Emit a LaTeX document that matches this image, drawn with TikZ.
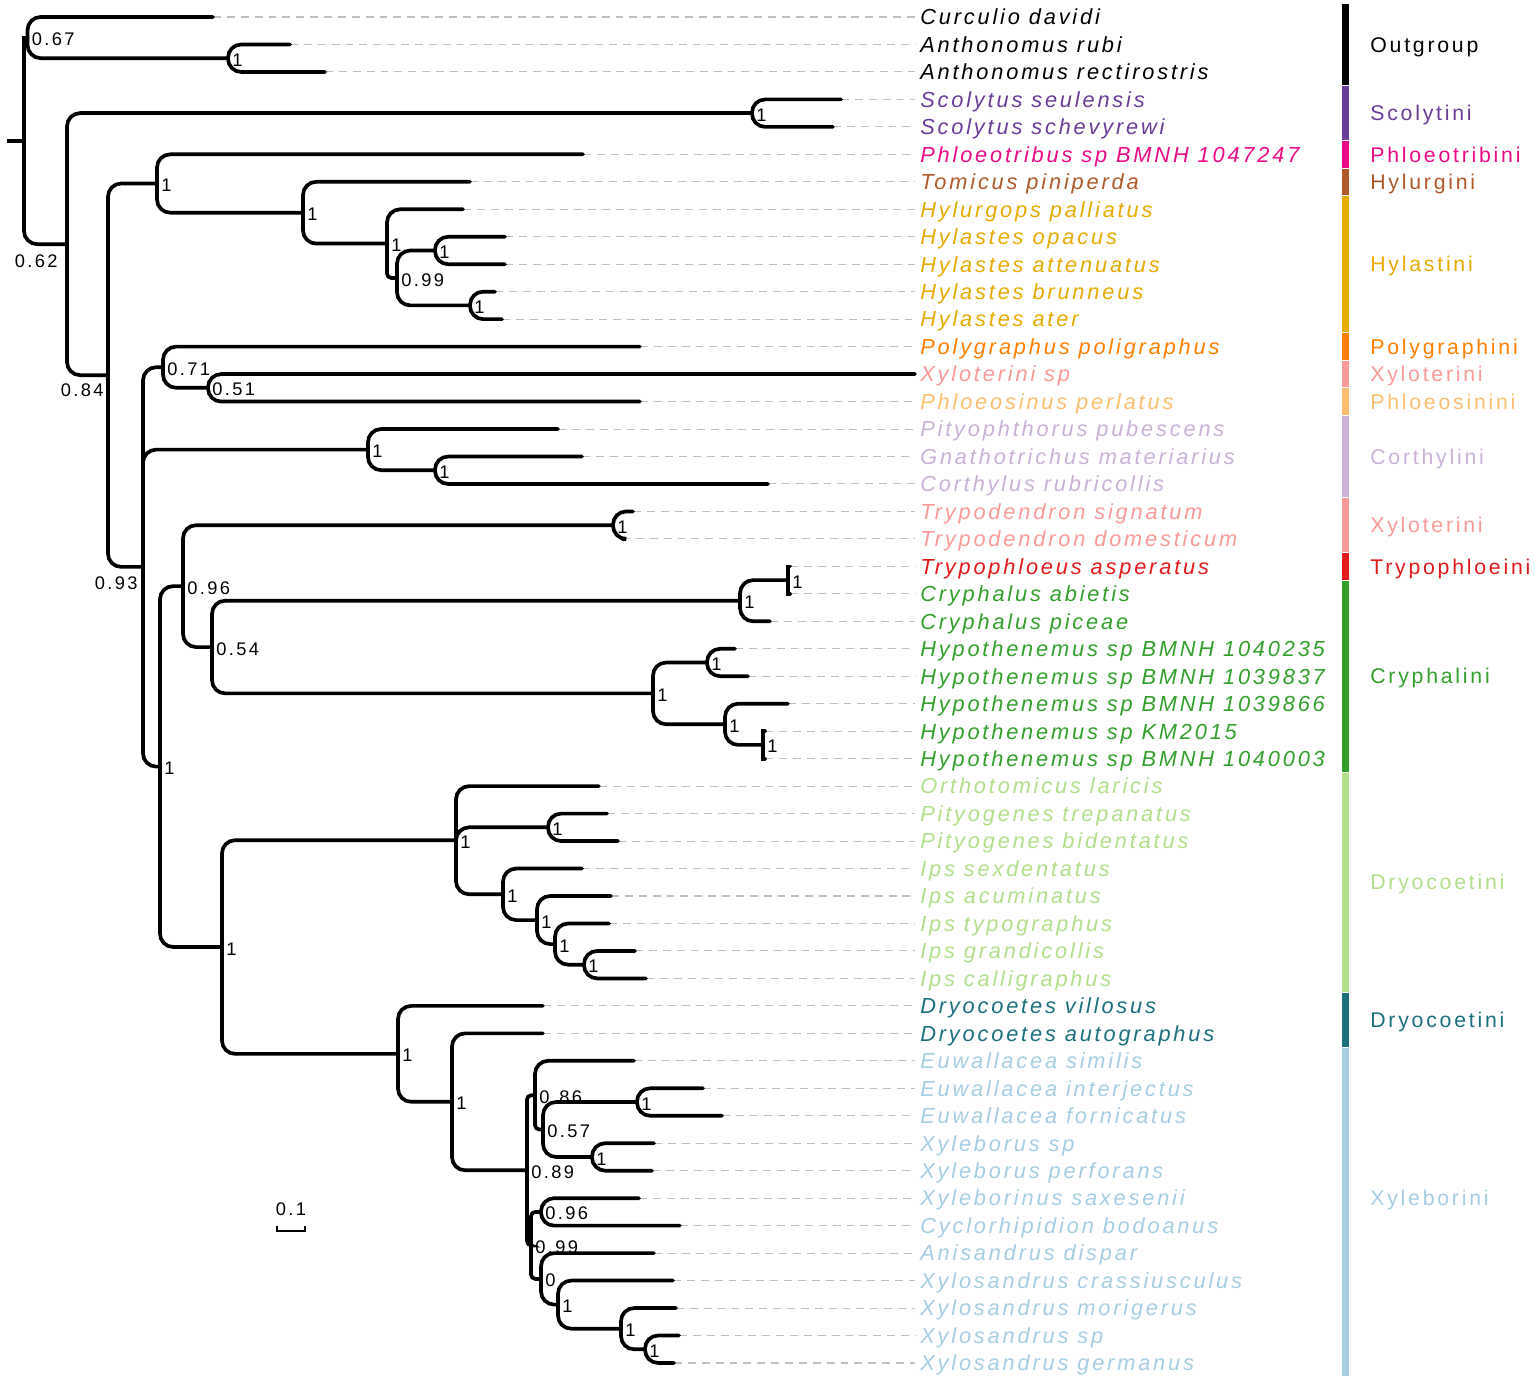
\documentclass[tikz,border=0pt]{standalone}
\usepackage{fontspec}
\setmainfont{Liberation Sans}[LetterSpace=13]
\usepackage{tikz}

\newcommand{\tipsize}{\fontsize{12.4}{14}\selectfont}
\newcommand{\cladesize}{\fontsize{12.1}{14}\selectfont}
\newcommand{\suppsize}{\fontsize{10.4}{12}\selectfont}

\definecolor{outgrp}{RGB}{0,0,0}
\definecolor{scoly}{RGB}{106,61,154}
\definecolor{phloeotr}{RGB}{235,10,135}
\definecolor{hylurg}{RGB}{177,89,40}
\definecolor{hylast}{RGB}{230,171,2}
\definecolor{polygr}{RGB}{255,127,0}
\definecolor{xyloter}{RGB}{251,154,153}
\definecolor{phloeos}{RGB}{253,191,111}
\definecolor{corthyl}{RGB}{202,178,214}
\definecolor{trypo}{RGB}{227,26,28}
\definecolor{cryph}{RGB}{51,160,44}
\definecolor{dryoa}{RGB}{178,223,138}
\definecolor{dryob}{RGB}{27,112,125}
\definecolor{xylebo}{RGB}{166,206,227}

\begin{document}
\begin{tikzpicture}[x=0.02cm, y=-0.02cm,
    branch/.style={draw, line width=2.1pt, line cap=round, rounded corners=7.5pt,
                   to path={|- (\tikztotarget)}},
    tight/.style={branch, rounded corners=2.5pt},
    square/.style={branch, sharp corners},
    guide/.style={draw=black!25, line width=0.6pt, dash pattern=on 4.5pt off 3.4pt},
    tip/.style={anchor=west, inner xsep=2.8pt, inner ysep=0pt, font=\tipsize\itshape,
                text height=8.9pt, text depth=0pt},
    supp/.style={anchor=west, inner sep=0pt, xshift=2.3pt, yshift=-1pt, font=\suppsize},
    suppl/.style={anchor=east, inner sep=0pt, font=\suppsize},
    clade/.style={anchor=west, inner sep=0pt, font=\cladesize, text height=8.7pt, text depth=0pt}]
  \path[fill=white] (0,0) rectangle (1535,1381);

  \foreach \i/\xe/\col/\txt in {1/213/outgrp/Curculio davidi, 2/290/outgrp/Anthonomus rubi,
      3/325/outgrp/Anthonomus rectirostris, 4/841/scoly/Scolytus seulensis,
      5/833/scoly/Scolytus schevyrewi, 6/583/phloeotr/Phloeotribus sp BMNH 1047247,
      7/470/hylurg/Tomicus piniperda, 8/463/hylast/Hylurgops palliatus,
      9/505/hylast/Hylastes opacus, 10/505/hylast/Hylastes attenuatus,
      11/495/hylast/Hylastes brunneus, 12/502/hylast/Hylastes ater,
      13/640/polygr/Polygraphus poligraphus, 14/915/xyloter/Xyloterini sp,
      15/640/phloeos/Phloeosinus perlatus, 16/558/corthyl/Pityophthorus pubescens,
      17/582/corthyl/Gnathotrichus materiarius, 18/768/corthyl/Corthylus rubricollis,
      19/633/xyloter/Trypodendron signatum, 20/622/xyloter/Trypodendron domesticum,
      21/790/trypo/Trypophloeus asperatus, 22/790/cryph/Cryphalus abietis,
      23/770/cryph/Cryphalus piceae, 24/735/cryph/Hypothenemus sp BMNH 1040235,
      25/748/cryph/Hypothenemus sp BMNH 1039837, 26/788/cryph/Hypothenemus sp BMNH 1039866,
      27/765/cryph/Hypothenemus sp KM2015, 28/765/cryph/Hypothenemus sp BMNH 1040003,
      29/599/dryoa/Orthotomicus laricis, 30/607/dryoa/Pityogenes trepanatus,
      31/618/dryoa/Pityogenes bidentatus, 32/582/dryoa/Ips sexdentatus,
      33/611/dryoa/Ips acuminatus, 34/609/dryoa/Ips typographus,
      35/635/dryoa/Ips grandicollis, 36/646/dryoa/Ips calligraphus,
      37/543/dryob/Dryocoetes villosus, 38/543/dryob/Dryocoetes autographus,
      39/634/xylebo/Euwallacea similis, 40/703/xylebo/Euwallacea interjectus,
      41/722/xylebo/Euwallacea fornicatus, 42/654/xylebo/Xyleborus sp,
      43/652/xylebo/Xyleborus perforans, 44/639/xylebo/Xyleborinus saxesenii,
      45/680/xylebo/Cyclorhipidion bodoanus, 46/654/xylebo/Anisandrus dispar,
      47/673/xylebo/Xylosandrus crassiusculus, 48/676/xylebo/Xylosandrus morigerus,
      49/679/xylebo/Xylosandrus sp, 50/674/xylebo/Xylosandrus germanus}{
    \pgfmathsetmacro\ty{17+(\i-1)*27.469}
    \coordinate (t\i) at (\xe,\ty);
    \node[tip, text=\col] (l\i) at (915,\ty) {\txt};
    \draw[guide] (t\i) -- (l\i.west);
  }

  \foreach \n/\x/\y in {R/24/140.9, O/27.5/37.6, A/228/58.2, I/67/244.2, S/752/113.1,
      N84/108/375.2, P1/157/183.5, T1/303/212.7, H1/387/243.6, H2/397/278.0,
      H3/435/250.5, H4/470/305.4, N93/143/566.9, N71/163/367.2, N51/208/387.8,
      C1/368/449.6, C2/435/470.2, N1/160/766.6, N96/183/586.1, TR/613/525.2,
      N54/212/647.1, CR/740/600.7, CR2/788/580.1, HY/653/693.4, HY1/707/662.5,
      HY2/725/724.3, HY3/763/744.9, D1/222/947.0, I1/456/840.2, P2/548/827.3,
      I2/503/894.3, I3/537/920.1, I4/555/944.1, I5/584/964.7, DR/398/1053.9,
      X1/452/1101.8, X2/527/1170.3, N86/535/1095.2, N57/543/1129.5, EU/637/1102.0,
      XB/592/1157.0, N99/531/1245.4, N96b/541/1211.9, N0/541/1278.9, N1b/558/1304.6,
      XS/621/1328.7, XS2/645/1349.3}
    \coordinate (\n) at (\x,\y);
  \coordinate (rs) at (7,140.9);

  \draw[line width=2.1pt] (rs) -- (R);
  \foreach \p/\c in {R/I, O/t1, O/A, A/t2, A/t3, I/S, I/N84, S/t4, S/t5,
      N84/P1, N84/N93, P1/t6, P1/T1, T1/t7, T1/H1, H1/t8, H2/H3, H2/H4,
      H3/t9, H3/t10, H4/t11, H4/t12, N93/N71, N93/C1, N93/N1,
      N71/t13, N71/N51, N51/t14, N51/t15, C1/t16, C1/C2, C2/t17, C2/t18,
      N1/N96, N1/D1, N96/TR, N96/N54, TR/t19, TR/t20, N54/CR, N54/HY,
      CR/CR2, CR/t23, HY/HY1, HY/HY2, HY1/t24, HY1/t25, HY2/t26, HY2/HY3,
      D1/I1, D1/DR, I1/t29, I1/P2, I1/I2, P2/t30, P2/t31, I2/t32, I2/I3,
      I3/t33, I3/I4, I4/t34, I4/I5, I5/t35, I5/t36, DR/t37, DR/X1, X1/t38, X1/X2,
      N86/t39, N57/EU, N57/XB, EU/t40, EU/t41, XB/t42, XB/t43,
      N96b/t44, N96b/t45, N0/t46, N0/N1b, N1b/t47, N1b/XS, XS/t48, XS/XS2,
      XS2/t49, XS2/t50}
    \path (\p) edge[branch] (\c);
  \foreach \p/\c in {H1/H2, X2/N86, X2/N99, N86/N57, N99/N96b, N99/N0}
    \path (\p) edge[tight] (\c);
  \foreach \p/\c in {R/O, CR2/t21, CR2/t22, HY3/t27, HY3/t28}
    \path (\p) edge[square] (\c);

  \foreach \n/\v in {O/0.67, A/1, S/1, P1/1, T1/1, H1/1, H2/0.99, H3/1, H4/1,
      N71/0.71, N51/0.51, C1/1, C2/1, TR/1, N96/0.96, N54/0.54, CR/1, CR2/1,
      HY/1, HY1/1, HY2/1, HY3/1, N1/1, D1/1, I1/1, P2/1, I2/1, I3/1, I4/1, I5/1,
      DR/1, X1/1, X2/0.89, N86/0.86, N57/0.57, EU/1, XB/1, N99/0.99, N96b/0.96,
      N0/0, N1b/1, XS/1, XS2/1}
    \node[supp] (s\n) at (\n) {\v};
  \node[suppl] (sI) at (58,261) {0.62};
  \node[suppl] (sN84) at (104,390) {0.84};
  \node[suppl] (sN93) at (138,583) {0.93};

  \coordinate (sbl) at (277,1226);
  \coordinate (sbr) at (305,1226);
  \draw[line width=0.9pt] (sbl) -- ++(0,5) -| (sbr);
  \node[inner sep=0pt, font=\suppsize] (sbt) at (291,1209) {0.1};

  \foreach \a/\b/\col/\ly/\txt in {1/3/outgrp/44.5/Outgroup, 4/5/scoly/113.1/Scolytini,
      6/6/phloeotr/154.4/Phloeotribini, 7/7/hylurg/181.8/Hylurgini,
      8/12/hylast/264.2/Hylastini, 13/13/polygr/346.6/Polygraphini,
      14/14/xyloter/374.1/Xyloterini, 15/15/phloeos/401.6/Phloeosinini,
      16/18/corthyl/456.5/Corthylini, 19/20/xyloter/525.2/Xyloterini,
      21/21/trypo/566.4/Trypophloeini, 22/28/cryph/676.3/Cryphalini,
      29/36/dryoa/882.3/Dryocoetini, 37/38/dryob/1019.6/Dryocoetini,
      39/50/xylebo/1198/Xyleborini}{
    \fill[\col] (1341.5,{17+(\a-1)*27.469-13.2}) rectangle (1348.5,{17+(\b-1)*27.469+13.2});
    \node[clade, text=\col] (g\a) at (1370,\ly) {\txt};
  }
\end{tikzpicture}
\end{document}
